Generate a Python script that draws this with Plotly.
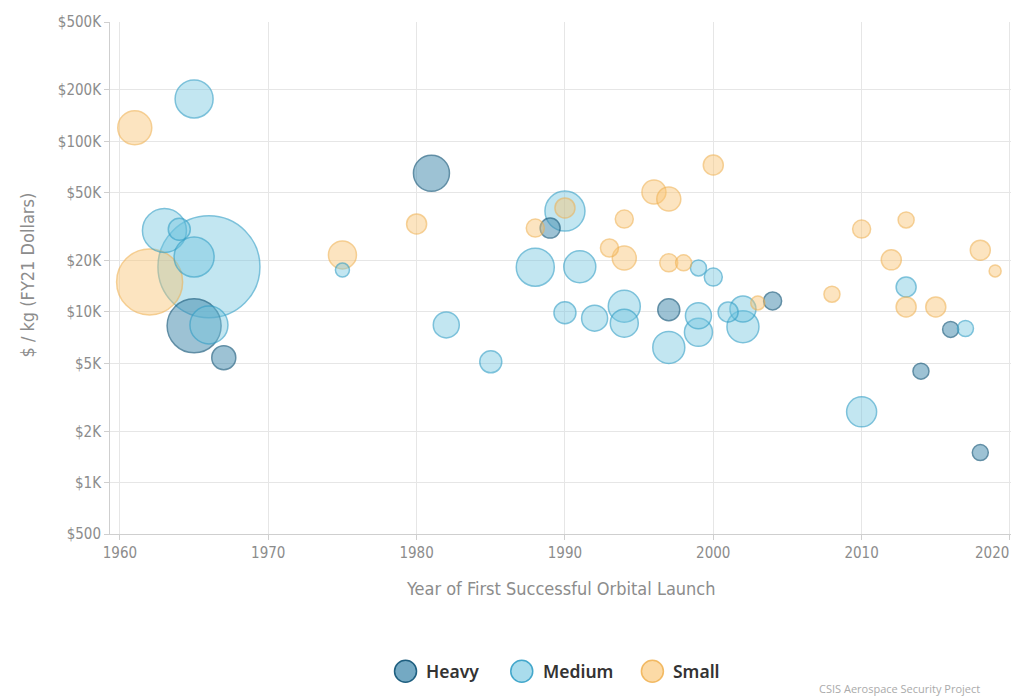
import math
import plotly.graph_objects as go

# Launch vehicles by class: year of first successful orbital launch and $/kg (FY21 dollars)
heavy_year = [1965, 1967, 1981, 1989, 1997, 2004, 2014, 2016, 2018]
heavy_cost = [8300, 5400, 65000, 31000, 10300, 11600, 4500, 7900, 1500]
heavy_weight = [729, 144, 324, 100, 121, 81, 64, 64, 64]

medium_year = [1963, 1964, 1965, 1965, 1966, 1966, 1975, 1982, 1985, 1988, 1990, 1990,
               1991, 1992, 1994, 1994, 1997, 1999, 1999, 1999, 2000, 2001, 2002, 2002,
               2010, 2013, 2017]
medium_cost = [30000, 30500, 177000, 21000, 18400, 8400, 17600, 8400, 5100, 18300, 39000, 9900,
               18400, 9200, 10800, 8600, 6200, 18100, 9500, 7600, 16000, 10000, 10400, 8200,
               2600, 14000, 8000]
medium_weight = [484, 121, 361, 400, 2601, 361, 49, 169, 121, 361, 400, 121,
                 256, 169, 256, 196, 256, 64, 169, 196, 81, 100, 169, 256,
                 225, 100, 64]

small_year = [1961, 1962, 1975, 1980, 1988, 1990, 1993, 1994, 1994, 1996, 1997, 2000,
              1997, 1998, 2003, 2008, 2010, 2012, 2013, 2013, 2015, 2018, 2019]
small_cost = [120000, 15000, 21600, 32800, 31000, 40700, 23700, 35000, 20700, 50500, 45900, 72600,
              19400, 19400, 11300, 12700, 30600, 20200, 34600, 10700, 10700, 23000, 17400]
small_weight = [289, 1089, 196, 100, 81, 100, 81, 81, 144, 144, 144, 100,
                81, 64, 49, 64, 81, 100, 64, 100, 100, 100, 36]

classes = ["Heavy", "Medium", "Small"]

y_tick_vals = [500, 1000, 2000, 5000, 10000, 20000, 50000, 100000, 200000, 500000]
y_tick_text = ["$500", "$1K", "$2K", "$5K", "$10K", "$20K", "$50K", "$100K", "$200K", "$500K"]
x_tick_vals = [1960, 1970, 1980, 1990, 2000, 2010, 2020]
x_tick_text = ["1960", "1970", "1980", "1990", "2000", "2010", ""]

NARROW = "Liberation Sans Narrow, DejaVu Sans Condensed, Arial Narrow, sans-serif"
GREY = "#8c8c8c"

style = {
    "Heavy": ("rgba(62,136,172,0.72)", "rgba(22,88,122,0.95)"),
    "Medium": ("rgba(112,196,224,0.6)", "rgba(52,160,198,0.9)"),
    "Small": ("rgba(250,196,112,0.62)", "rgba(240,176,80,0.85)"),
}

# Gather all vehicles, largest bubbles first so smaller ones stay visible on top
rows = []
for cls, xs, ys, ws in [("Heavy", heavy_year, heavy_cost, heavy_weight),
                        ("Medium", medium_year, medium_cost, medium_weight),
                        ("Small", small_year, small_cost, small_weight)]:
    for x, y, w in zip(xs, ys, ws):
        rows.append((w, x, y, cls))
rows.sort(key=lambda r: -r[0])

fig = go.Figure()
fig.add_trace(go.Scatter(
    x=[r[1] for r in rows], y=[r[2] for r in rows], mode="markers",
    customdata=[r[3] for r in rows], showlegend=False,
    marker=dict(size=[r[0] for r in rows], sizemode="area", sizeref=0.5,
                color=[style[r[3]][0] for r in rows],
                line=dict(color=[style[r[3]][1] for r in rows], width=1.5)),
    hovertemplate="%{customdata}<br>%{x}: $%{y:,.0f}/kg<extra></extra>",
))

# Legend drawn as circles with labels centred under the plot
legend_x = [0.328, 0.457, 0.602]   # paper x of each legend circle
legend_y = -0.268
shapes = []
annotations = []
for cls, lx in zip(classes, legend_x):
    fill, edge = style[cls]
    shapes.append(dict(type="circle", xref="paper", yref="paper",
                       xsizemode="pixel", ysizemode="pixel",
                       xanchor=lx, yanchor=legend_y, x0=-11, x1=11, y0=-11, y1=11,
                       fillcolor=fill, line=dict(color=edge, width=1.5)))
    annotations.append(dict(text=cls, xref="paper", yref="paper", x=lx + 0.021, y=legend_y,
                            xanchor="left", yanchor="middle", showarrow=False,
                            font=dict(family="Noto Sans, Open Sans, sans-serif", size=17.5,
                                      color="#333333", weight=600)))

annotations += [
    dict(text="$ / kg (FY21 Dollars)", xref="paper", yref="paper", x=-0.092, y=0.505,
         xanchor="center", yanchor="middle", textangle=-90, showarrow=False,
         font=dict(family=NARROW, size=18, color=GREY)),
    dict(text="Year of First Successful Orbital Launch", xref="paper", yref="paper",
         x=0.5, y=-0.107, xanchor="center", yanchor="middle", showarrow=False,
         font=dict(family=NARROW, size=18, color=GREY)),
    # last year label sits flush with the right edge of the plot
    dict(text="2020", xref="paper", yref="paper", x=1.0, y=0, xanchor="right", yanchor="top",
         yshift=-8, showarrow=False, font=dict(family=NARROW, size=15, color=GREY)),
    dict(text="CSIS Aerospace Security Project", xref="paper", yref="paper",
         x=0.785, y=-0.3203, xanchor="left", yanchor="bottom", showarrow=False,
         font=dict(family="Open Sans, sans-serif", size=11, color="#aaaaaa")),
]

fig.update_layout(
    width=1014, height=698,
    margin=dict(l=110, r=3, t=22, b=164),
    paper_bgcolor="white", plot_bgcolor="white",
    font=dict(family=NARROW, color=GREY, size=15),
    showlegend=False,
    xaxis=dict(range=[1959.33, 2020.07], tickvals=x_tick_vals, ticktext=x_tick_text,
               showgrid=True, gridcolor="#e6e6e6", gridwidth=1, zeroline=False,
               showline=True, linecolor="#cfcfcf", linewidth=1,
               ticks="outside", ticklen=5, tickcolor="#cfcfcf",
               tickfont=dict(family=NARROW, size=15, color=GREY)),
    yaxis=dict(type="log", range=[math.log10(500), math.log10(500000)],
               tickvals=y_tick_vals, ticktext=y_tick_text, showgrid=True,
               gridcolor="#e6e6e6", gridwidth=1, zeroline=False,
               showline=True, linecolor="#cfcfcf", linewidth=1,
               ticks="outside", ticklen=5, tickcolor="#cfcfcf",
               tickfont=dict(family=NARROW, size=15, color=GREY)),
    shapes=shapes,
    annotations=annotations,
)

fig.write_html("out.html")
